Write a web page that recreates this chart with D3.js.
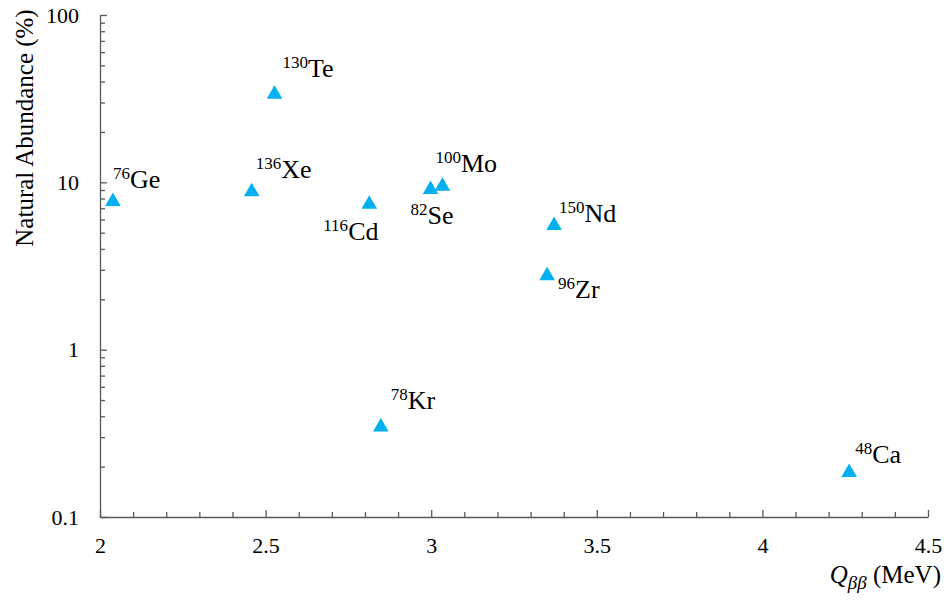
<!DOCTYPE html>
<html>
  <head>
    <meta charset="UTF-8">
    <script src="https://cdn.jsdelivr.net/npm/d3@7"></script>
  </head>
  <body style="margin:0">
    <svg id="chart" width="948" height="603" font-family="Liberation Serif"></svg>
    <script>
      // isotopes: mass number, element, Q value (MeV), natural abundance (%)
      const massNumbers = [76, 130, 136, 116, 82, 100, 150, 96, 78, 48];
      const elements = ["Ge", "Te", "Xe", "Cd", "Se", "Mo", "Nd", "Zr", "Kr", "Ca"];
      const qValues = [2.039, 2.527, 2.458, 2.813, 2.998, 3.034, 3.371, 3.350, 2.848, 4.262];
      const abundances = [7.8, 34.08, 8.9, 7.5, 9.2, 9.6, 5.6, 2.8, 0.35, 0.187];

      const xTicks = [2, 2.5, 3, 3.5, 4, 4.5];
      const yTicks = [0.1, 1, 10, 100];

      // label placement relative to the marker (start of text, baseline)
      const labelOffsets = {
        Ge: [0, -12], Te: [8, -16], Xe: [4, -13], Cd: [-46, 37], Se: [-20, 36],
        Mo: [-7, -13], Nd: [5, -2], Zr: [11, 23], Kr: [10, -17], Ca: [6, -9]
      };

      const margin = { left: 100, right: 20, top: 15, bottom: 86 };
      const width = 948, height = 603;
      const axisColor = "#595959";
      const font = "Liberation Serif";

      const svg = d3.select("#chart");

      const x = d3.scaleLinear()
        .domain([2, 4.5])
        .range([margin.left, width - margin.right]);

      const y = d3.scaleLog()
        .domain([0.1, 100])
        .range([height - margin.bottom, margin.top]);

      const xMinor = d3.range(2, 4.5001, 0.1)
        .map(v => +v.toFixed(1))
        .filter(v => !xTicks.includes(v));
      const yMinor = [];
      [0.1, 1, 10].forEach(dec => {
        for (let k = 2; k <= 9; k++) yMinor.push(dec * k);
      });

      // x axis
      svg.append("g")
        .attr("transform", `translate(0, ${y(0.1)})`)
        .call(d3.axisBottom(x)
          .tickValues(xTicks)
          .tickFormat(d3.format("~g"))
          .tickSizeInner(-7)
          .tickSizeOuter(0)
          .tickPadding(20));

      svg.append("g")
        .attr("transform", `translate(0, ${y(0.1)})`)
        .call(d3.axisBottom(x)
          .tickValues(xMinor)
          .tickFormat("")
          .tickSizeInner(-5)
          .tickSizeOuter(0))
        .call(g => g.select(".domain").remove());

      // y axis
      svg.append("g")
        .attr("transform", `translate(${x(2)}, 0)`)
        .call(d3.axisLeft(y)
          .tickValues(yTicks)
          .tickFormat(d3.format("~g"))
          .tickSizeInner(-7)
          .tickSizeOuter(0)
          .tickPadding(21));

      svg.append("g")
        .attr("transform", `translate(${x(2)}, 0)`)
        .call(d3.axisLeft(y)
          .tickValues(yMinor)
          .tickFormat("")
          .tickSizeInner(-5)
          .tickSizeOuter(0))
        .call(g => g.select(".domain").remove());

      svg.selectAll("g").attr("font-family", font).attr("font-size", null);

      svg.selectAll(".domain, .tick line")
        .attr("stroke", axisColor)
        .attr("stroke-width", 1.3);

      svg.selectAll(".tick text")
        .attr("font-family", font)
        .attr("font-size", 22)
        .attr("fill", "#000");

      // axis titles
      svg.append("text")
        .attr("transform", "translate(33, 128) rotate(-90)")
        .attr("text-anchor", "middle")
        .attr("font-family", font)
        .attr("font-size", 25)
        .text("Natural Abundance (%)");

      const xTitle = svg.append("text")
        .attr("x", 941)
        .attr("y", 583)
        .attr("text-anchor", "end")
        .attr("font-family", font)
        .attr("font-size", 25);
      xTitle.append("tspan").attr("font-style", "italic").text("Q");
      xTitle.append("tspan").attr("font-style", "italic").attr("font-size", 19).attr("dy", 6).text("ββ");
      xTitle.append("tspan").attr("dy", -6).text(" (MeV)");

      // markers
      const points = massNumbers.map((m, i) => ({
        mass: m, el: elements[i], q: qValues[i], a: abundances[i]
      }));

      svg.append("g")
        .selectAll("path")
        .data(points)
        .enter()
        .append("path")
        .attr("d", d3.symbol(d3.symbolTriangle, 105))
        .attr("transform", d => `translate(${x(d.q)}, ${y(d.a) + 1})`)
        .attr("fill", "#00B0F0");

      // labels
      const labels = svg.append("g")
        .selectAll("text")
        .data(points)
        .enter()
        .append("text")
        .attr("x", d => x(d.q) + labelOffsets[d.el][0])
        .attr("y", d => y(d.a) + labelOffsets[d.el][1])
        .attr("font-family", font)
        .attr("font-size", 26);
      labels.append("tspan")
        .attr("font-size", 17)
        .attr("dy", -9)
        .text(d => d.mass);
      labels.append("tspan")
        .attr("dy", 9)
        .text(d => d.el);
    </script>
  </body>
</html>
